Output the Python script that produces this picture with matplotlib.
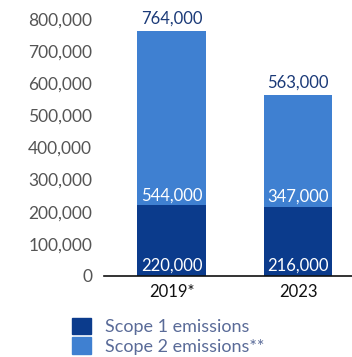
import matplotlib.pyplot as plt
from matplotlib.patches import Patch

years = ['2019*', '2023']
scope1 = [220000, 216000]
scope2 = [544000, 347000]
totals = [764000, 563000]

dark = '#0b3b8c'
light = '#3f80d1'

plt.rcParams['font.family'] = ['Lato', 'DejaVu Sans']

fig = plt.figure(figsize=(3.52, 3.57), dpi=100)
ax = fig.add_axes([0.2955, 0.2269, 0.7045, 0.7199])

x = [0, 1]
w = 0.545
ax.bar(x, scope1, width=w, color=dark)
ax.bar(x, scope2, width=w, bottom=scope1, color=light)

# labels inside, sitting at the bottom of each segment
for i in range(len(x)):
    ax.annotate(f'{scope1[i]:,}', (x[i], 0), xytext=(0, 1.5), textcoords='offset points',
                ha='center', va='bottom', color='white', fontsize=12)
    ax.annotate(f'{scope2[i]:,}', (x[i], scope1[i]), xytext=(0, 1.5), textcoords='offset points',
                ha='center', va='bottom', color='white', fontsize=12)
    ax.annotate(f'{totals[i]:,}', (x[i], totals[i]), xytext=(0, 3), textcoords='offset points',
                ha='center', va='bottom', color='#1b3a78', fontsize=12, annotation_clip=False)

ax.set_xlim(-0.534, 1.427)
ax.set_ylim(0, 800000)
ax.set_yticks(range(0, 800001, 100000))
ax.set_yticklabels([f'{v:,}' for v in range(0, 800001, 100000)])
ax.set_xticks(x)
ax.set_xticklabels(years)
ax.tick_params(axis='y', length=0, pad=8.5, labelsize=12.5, labelcolor='#555555')
ax.tick_params(axis='x', length=0, pad=6, labelsize=12, labelcolor='#111111')
for s in ['top', 'right', 'left']:
    ax.spines[s].set_visible(False)
ax.spines['bottom'].set_color('#111111')
ax.spines['bottom'].set_linewidth(1.2)

handles = [Patch(color=dark), Patch(color=light)]
fig.legend(handles, ['Scope 1 emissions', 'Scope 2 emissions**'],
           loc='upper left', bbox_to_anchor=(0.205, 0.11), frameon=False,
           fontsize=13, labelcolor='#5a6b98', handlelength=1.05, handleheight=1.05,
           handletextpad=0.75, labelspacing=0.1, borderaxespad=0, borderpad=0)

fig.savefig('out.png', dpi=100)
